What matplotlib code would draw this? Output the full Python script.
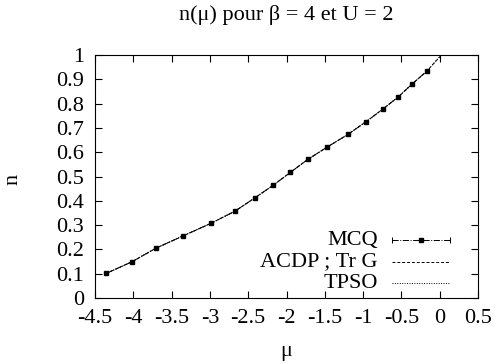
import numpy as np
import matplotlib
matplotlib.use("Agg")
import matplotlib.pyplot as plt

plt.rcParams['font.family'] = ['Liberation Serif', 'DejaVu Serif']

# MCQ points
mu_mcq = [-4.35, -4.02, -3.70, -3.35, -2.99, -2.67, -2.41, -2.17, -1.95,
          -1.72, -1.47, -1.20, -0.96, -0.74, -0.54, -0.36, -0.17]
n_mcq = [0.102, 0.149, 0.206, 0.256, 0.307, 0.358, 0.413, 0.465, 0.517,
         0.571, 0.621, 0.673, 0.726, 0.778, 0.828, 0.881, 0.933]

# ACDP ; Tr G and TPSO curves lie on top of MCQ and go up to n = 1
mu_acdp = mu_mcq + [0.02]
n_acdp = n_mcq + [1.0]
mu_tpso = mu_mcq + [0.02]
n_tpso = n_mcq + [1.0]

xticks = [-4.5, -4, -3.5, -3, -2.5, -2, -1.5, -1, -0.5, 0, 0.5]
xlabels = ["-4.5", "-4", "-3.5", "-3", "-2.5", "-2", "-1.5", "-1", "-0.5", "0", "0.5"]
yticks = [0, 0.1, 0.2, 0.3, 0.4, 0.5, 0.6, 0.7, 0.8, 0.9, 1]
ylabels = ["0", "0.1", "0.2", "0.3", "0.4", "0.5", "0.6", "0.7", "0.8", "0.9", "1"]

fs = 16

fig = plt.figure(figsize=(4.97, 3.64), dpi=100)
ax = fig.add_axes([0.191, 0.181, 0.771, 0.668])

ax.plot(mu_acdp, n_acdp, color='black', lw=0.7, ls=(0, (3, 2)))
ax.plot(mu_tpso, n_tpso, color='black', lw=0.7, ls=(0, (1, 1.5)))
ax.plot(mu_mcq, n_mcq, color='black', lw=0.7, ls='-.', marker='s', ms=3.5)

ax.set_xlim(-4.5, 0.5)
ax.set_ylim(0, 1)
ax.set_xticks(xticks)
ax.set_xticklabels(xlabels)
ax.set_yticks(yticks)
ax.set_yticklabels(ylabels)
ax.tick_params(direction='in', top=True, right=True, length=5, width=0.8,
               labelsize=fs, pad=8)
for s in ax.spines.values():
    s.set_linewidth(0.8)

ax.set_title("n(μ) pour β = 4 et U = 2", fontsize=fs, pad=25)
ax.set_xlabel("μ", fontsize=fs, labelpad=10)
ax.set_ylabel("n", fontsize=fs)
ax.yaxis.set_label_coords(-0.19, 0.49)

# gnuplot-style key, text right aligned, sample on the right
keys = [("MCQ", '-.', True), ("ACDP ; Tr G", (0, (3, 2)), False),
        ("TPSO", (0, (1, 1.5)), False)]
ys = [0.238, 0.148, 0.062]
for (lab, ls, mk), yk in zip(keys, ys):
    ax.text(0.738, yk, lab, transform=ax.transAxes, ha='right', va='center', fontsize=fs)
    ax.plot([0.776, 0.926], [yk, yk], transform=ax.transAxes, color='black',
            lw=0.7, ls=ls)
    if mk:
        ax.plot([0.851], [yk], transform=ax.transAxes, color='black',
                marker='s', ms=3.5)
        ax.plot([0.776, 0.926], [yk, yk], transform=ax.transAxes, color='black',
                ls='none', marker='|', ms=4, mew=0.7)

fig.savefig("out.png", dpi=100)
